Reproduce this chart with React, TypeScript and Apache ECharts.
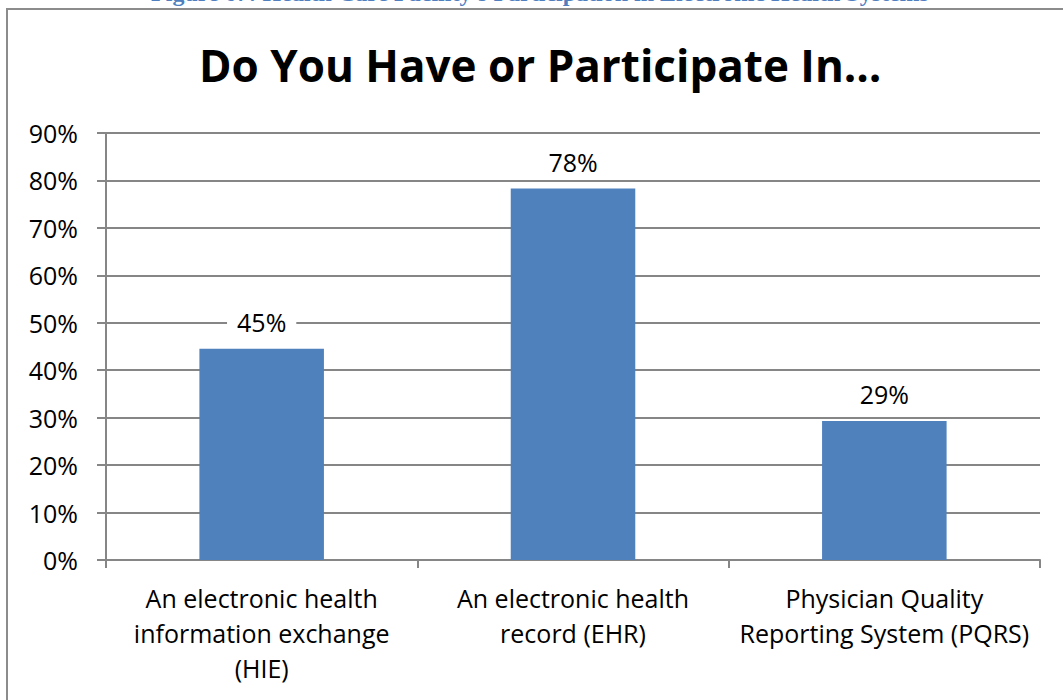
import React, { useEffect, useRef } from "react";
import * as echarts from "echarts";

const categories = [
  "An electronic health\ninformation exchange\n(HIE)",
  "An electronic health\nrecord (EHR)",
  "Physician Quality\nReporting System (PQRS)",
];
const values = [44.5, 78.3, 29.3];
const valueLabels = ["45%", "78%", "29%"];
const yTicks = { min: 0, max: 90, interval: 10 };
const chartTitle = "Do You Have or Participate In…";
const caption = "Figure 67: Health Care Facility's Participation in Electronic Health Systems";

const FONT = "'Open Sans', 'Noto Sans', sans-serif";

export default function App() {
  const ref = useRef<HTMLDivElement>(null);
  useEffect(() => {
    if (!ref.current) return;
    const chart = echarts.init(ref.current, null, { renderer: "svg" });
    chart.setOption({
      animation: false,
      backgroundColor: "#ffffff",
      title: {
        text: chartTitle,
        left: 194,
        top: 38,
        textStyle: { fontFamily: FONT, fontSize: 44, fontWeight: "bold", color: "#000" },
      },
      graphic: [
        {
          type: "rect",
          shape: { x: 7, y: 9, width: 1100, height: 760 },
          style: { fill: "none", stroke: "#8c8c8c", lineWidth: 2 },
          silent: true,
        },
        {
          type: "text",
          x: 540,
          y: 5,
          style: {
            text: caption,
            fill: "#4f7fbf",
            font: "bold 24px 'Liberation Serif', 'DejaVu Serif', serif",
            textAlign: "center",
            textVerticalAlign: "bottom",
          },
          silent: true,
        },
      ],
      grid: { left: 106, right: 23, top: 133, bottom: 140, containLabel: false },
      xAxis: {
        type: "category",
        data: categories,
        axisLine: { show: true, lineStyle: { color: "#868686", width: 2 } },
        axisTick: { show: true, length: 8, lineStyle: { color: "#868686", width: 2 } },
        axisLabel: {
          interval: 0,
          margin: 20,
          fontFamily: FONT,
          fontSize: 25,
          lineHeight: 35,
          color: "#000",
          align: "center",
        },
      },
      yAxis: {
        type: "value",
        min: yTicks.min,
        max: yTicks.max,
        interval: yTicks.interval,
        axisLine: { show: true, lineStyle: { color: "#868686", width: 2 } },
        axisTick: { show: true, length: 9, lineStyle: { color: "#868686", width: 2 } },
        splitLine: { show: true, lineStyle: { color: "#868686", width: 2 } },
        axisLabel: {
          formatter: "{value}%",
          margin: 28,
          fontFamily: FONT,
          fontSize: 25,
          color: "#000",
        },
      },
      series: [
        {
          type: "bar",
          data: values,
          barWidth: "40%",
          itemStyle: { color: "#4f81bd" },
          label: {
            show: true,
            position: "top",
            distance: 12,
            formatter: (p: any) => valueLabels[p.dataIndex],
            fontFamily: FONT,
            fontSize: 25,
            color: "#000",
            backgroundColor: "#ffffff",
            padding: [2, 10],
          },
        },
      ],
    });
    return () => chart.dispose();
  }, []);
  return (
    <div
      ref={ref}
      style={{ position: "fixed", left: 0, top: 0, width: 1063, height: 700 }}
    />
  );
}
